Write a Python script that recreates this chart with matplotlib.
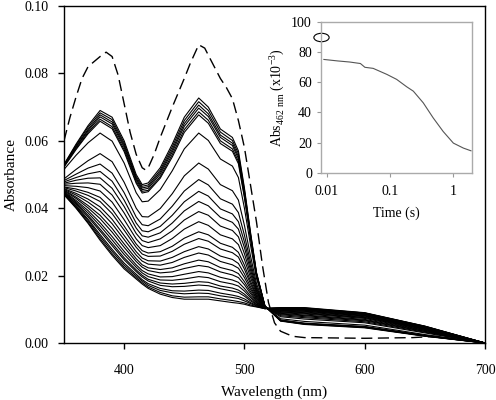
import matplotlib
matplotlib.use("Agg")
import matplotlib.pyplot as plt
import numpy as np
from matplotlib.markers import MarkerStyle
from matplotlib.transforms import Affine2D

plt.rcParams['font.family'] = ['Liberation Serif', 'DejaVu Serif']
plt.rcParams['mathtext.fontset'] = 'custom'
plt.rcParams['mathtext.rm'] = 'Liberation Serif'

# wavelengths (nm) the spectra were read at
wavelength = [350, 360, 370, 380, 390, 400, 410, 415, 420, 430, 440, 450, 462,
              470, 480, 490, 495, 500, 505, 510, 517, 530, 550, 600, 650, 700]

# initial spectrum (dashed), absorbance x 1e-3, on its own finer grid
dashed_wl = [350, 355, 360, 365, 370, 375, 380, 385, 390, 395, 400, 405, 410,
             415, 418, 420, 425, 430, 440, 450, 455, 462, 467, 472, 480, 485,
             490, 495, 500, 505, 510, 515, 520, 525, 530, 540, 550, 600, 640,
             660, 700]
dashed_abs = [60, 67, 73, 78.5, 82, 83.5, 85, 86.3, 85, 79.5, 71, 62.5, 56,
              52, 51.3, 52, 56, 61, 70, 78.5, 83, 88.5, 87.5, 84, 78.5, 75.8,
              72.5, 66, 58, 47, 36, 23, 12, 6, 3.5, 2, 1.6, 1.4, 1.6,
              2.0, 0]

# time-resolved spectra (solid), absorbance x 1e-3, first to last
spectra = [
    [53.0, 59.0, 64.5, 69.0, 67.0, 60.0, 50.0, 47.0, 47.5, 52.0, 59.0, 67.0, 72.7, 70.0, 63.5, 61.0, 57.0, 46.0, 33.0, 21.0, 11.0, 6.5, 5.5, 4.5, 2.0, 0],
    [52.9, 58.7, 64.0, 68.3, 66.3, 59.3, 49.4, 46.5, 46.9, 51.3, 58.2, 66.0, 71.6, 69.0, 62.6, 60.1, 56.2, 45.4, 32.6, 20.8, 11.0, 6.6, 5.6, 4.6, 2.1, 0],
    [52.7, 58.3, 63.4, 67.7, 65.6, 58.7, 48.9, 46.0, 46.4, 50.7, 57.4, 65.1, 70.6, 68.0, 61.7, 59.3, 55.4, 44.8, 32.2, 20.6, 11.0, 6.6, 5.7, 4.7, 2.1, 0],
    [52.6, 58.1, 63.0, 67.1, 65.0, 58.1, 48.5, 45.5, 45.9, 50.1, 56.7, 64.3, 69.7, 67.2, 61.0, 58.6, 54.7, 44.3, 31.9, 20.5, 11.0, 6.7, 5.7, 4.7, 2.1, 0],
    [52.4, 57.7, 62.5, 66.4, 64.2, 57.4, 47.9, 45.0, 45.3, 49.4, 55.9, 63.3, 68.6, 66.1, 60.0, 57.6, 53.9, 43.6, 31.5, 20.3, 10.9, 6.8, 5.8, 4.8, 2.2, 0],
    [52.2, 57.4, 62.1, 65.8, 63.6, 56.8, 47.4, 44.5, 44.9, 48.9, 55.2, 62.5, 67.7, 65.2, 59.2, 56.9, 53.2, 43.1, 31.2, 20.1, 10.9, 6.8, 5.9, 4.9, 2.3, 0],
    [51.5, 55.7, 59.4, 62.3, 59.9, 53.4, 44.6, 41.9, 42.1, 45.5, 51.1, 57.6, 62.3, 60.1, 54.6, 52.5, 49.1, 40.0, 29.2, 19.2, 10.9, 7.2, 6.4, 5.3, 2.5, 0],
    [48.7, 51.5, 54.1, 56.2, 53.8, 47.7, 40.0, 37.5, 37.4, 39.9, 44.3, 49.6, 53.4, 51.6, 47.0, 45.2, 42.4, 34.9, 25.9, 17.7, 10.7, 7.8, 7.1, 6.0, 3.0, 0],
    [48.2, 50.1, 51.9, 53.1, 50.4, 44.6, 37.4, 35.1, 34.8, 36.8, 40.6, 45.1, 48.5, 46.9, 42.8, 41.2, 38.7, 32.0, 24.1, 16.8, 10.7, 8.1, 7.5, 6.3, 3.2, 0],
    [47.8, 49.1, 50.2, 50.9, 48.0, 42.4, 35.6, 33.3, 33.0, 34.6, 37.9, 41.9, 45.0, 43.6, 39.8, 38.3, 36.0, 30.0, 22.8, 16.2, 10.6, 8.4, 7.8, 6.6, 3.4, 0],
    [47.4, 48.3, 48.9, 49.0, 45.9, 40.5, 34.1, 31.8, 31.4, 32.7, 35.6, 39.2, 42.0, 40.7, 37.3, 35.8, 33.8, 28.3, 21.7, 15.7, 10.6, 8.6, 8.1, 6.8, 3.5, 0],
    [47.1, 47.4, 47.5, 47.1, 43.9, 38.6, 32.5, 30.4, 29.8, 30.9, 33.3, 36.5, 39.0, 37.9, 34.7, 33.4, 31.5, 26.5, 20.6, 15.2, 10.5, 8.8, 8.3, 7.0, 3.7, 0],
    [46.7, 46.5, 46.1, 45.1, 41.8, 36.6, 30.9, 28.9, 28.3, 28.9, 31.0, 33.8, 36.0, 34.9, 32.1, 30.9, 29.2, 24.8, 19.5, 14.7, 10.5, 9.0, 8.6, 7.3, 3.8, 0],
    [46.3, 45.7, 44.7, 43.2, 39.7, 34.7, 29.4, 27.4, 26.7, 27.1, 28.7, 31.1, 33.0, 32.1, 29.6, 28.4, 26.9, 23.1, 18.4, 14.2, 10.5, 9.2, 8.8, 7.5, 4.0, 0],
    [46.1, 45.1, 43.8, 42.0, 38.4, 33.5, 28.4, 26.4, 25.7, 25.8, 27.2, 29.3, 31.0, 30.2, 27.9, 26.8, 25.5, 21.9, 17.6, 13.8, 10.4, 9.3, 9.0, 7.6, 4.1, 0],
    [45.8, 44.4, 42.7, 40.4, 36.7, 31.9, 27.1, 25.2, 24.4, 24.3, 25.4, 27.1, 28.6, 27.9, 25.8, 24.8, 23.6, 20.5, 16.7, 13.4, 10.4, 9.5, 9.2, 7.8, 4.2, 0],
    [45.6, 43.9, 41.8, 39.2, 35.4, 30.7, 26.1, 24.3, 23.4, 23.1, 23.9, 25.4, 26.7, 26.1, 24.2, 23.2, 22.2, 19.4, 16.0, 13.1, 10.4, 9.6, 9.4, 8.0, 4.3, 0],
    [45.4, 43.3, 40.8, 37.9, 34.0, 29.4, 25.0, 23.2, 22.3, 21.8, 22.3, 23.5, 24.6, 24.1, 22.4, 21.5, 20.6, 18.2, 15.3, 12.7, 10.4, 9.7, 9.5, 8.1, 4.4, 0],
    [45.2, 42.9, 40.1, 36.9, 32.9, 28.4, 24.2, 22.5, 21.5, 20.8, 21.1, 22.1, 23.0, 22.6, 21.1, 20.2, 19.4, 17.3, 14.7, 12.4, 10.3, 9.8, 9.7, 8.2, 4.5, 0],
    [45.0, 42.3, 39.3, 35.7, 31.6, 27.2, 23.2, 21.5, 20.5, 19.6, 19.7, 20.4, 21.2, 20.8, 19.5, 18.7, 18.0, 16.2, 14.0, 12.1, 10.3, 10.0, 9.8, 8.4, 4.6, 0],
    [44.8, 41.9, 38.6, 34.8, 30.6, 26.3, 22.5, 20.8, 19.7, 18.7, 18.6, 19.0, 19.7, 19.4, 18.2, 17.5, 16.9, 15.4, 13.5, 11.9, 10.3, 10.1, 9.9, 8.5, 4.7, 0],
    [44.6, 41.5, 37.9, 33.8, 29.6, 25.3, 21.7, 20.1, 18.9, 17.8, 17.5, 17.7, 18.2, 18.0, 16.9, 16.3, 15.7, 14.5, 12.9, 11.6, 10.3, 10.2, 10.1, 8.6, 4.7, 0],
    [44.5, 41.2, 37.4, 33.2, 28.9, 24.7, 21.2, 19.6, 18.4, 17.1, 16.7, 16.8, 17.2, 17.0, 16.1, 15.4, 15.0, 13.9, 12.5, 11.4, 10.3, 10.2, 10.1, 8.7, 4.8, 0],
    [44.3, 40.8, 36.7, 32.2, 27.8, 23.7, 20.4, 18.8, 17.6, 16.2, 15.5, 15.4, 15.7, 15.6, 14.8, 14.2, 13.8, 13.1, 12.0, 11.2, 10.2, 10.3, 10.3, 8.8, 4.9, 0],
    [44.2, 40.5, 36.3, 31.6, 27.2, 23.1, 19.9, 18.4, 17.1, 15.6, 14.9, 14.6, 14.8, 14.7, 14.0, 13.5, 13.2, 12.5, 11.7, 11.0, 10.2, 10.4, 10.3, 8.9, 4.9, 0],
    [44.1, 40.2, 35.8, 31.0, 26.5, 22.5, 19.4, 17.9, 16.6, 15.0, 14.0, 13.6, 13.7, 13.7, 13.1, 12.6, 12.3, 11.9, 11.3, 10.8, 10.2, 10.5, 10.4, 8.9, 5.0, 0],
    [44.0, 40.0, 35.5, 30.5, 26.0, 22.0, 19.0, 17.5, 16.2, 14.5, 13.5, 13.0, 13.0, 13.0, 12.5, 12.0, 11.8, 11.5, 11.0, 10.7, 10.2, 10.5, 10.5, 9.0, 5.0, 0],
]

# inset: kinetics at 462 nm
time_s = [0.009, 0.015, 0.023, 0.034, 0.040, 0.054, 0.089, 0.127, 0.183,
          0.233, 0.334, 0.48, 0.69, 1.0, 1.44, 1.9]
abs462 = [75, 74, 73.3, 72.3, 69.8, 69.1, 65.1, 61.8, 56.9,
          54, 46.3, 36.3, 27.3, 19.6, 16.3, 14.5]
t0_point = (0.0081, 90)

fig = plt.figure(figsize=(4.96, 4.0), dpi=100)
ax = fig.add_axes([64/496, 57/400, 421/496, 337/400])

wl = np.array(wavelength)
for s in spectra:
    ax.plot(wl, np.array(s) / 1000, color='black', lw=0.8)
ax.plot(dashed_wl, np.array(dashed_abs) / 1000, color='black', lw=1.0,
        dashes=(8, 4))

ax.set_xlim(350, 700)
ax.set_ylim(0, 0.10)
ax.set_xticks([400, 500, 600, 700])
ax.set_yticks([0, 0.02, 0.04, 0.06, 0.08, 0.10])
ax.set_yticklabels(['0.00', '0.02', '0.04', '0.06', '0.08', '0.10'])
ax.tick_params(axis='x', direction='out', length=4, width=1, pad=11, labelsize=10)
ax.tick_params(axis='y', direction='out', length=4, width=1, pad=7, labelsize=10)
ax.set_xlabel('Wavelength (nm)', fontsize=11, labelpad=6)
ax.set_ylabel('Absorbance', fontsize=11, labelpad=5)
for sp in ax.spines.values():
    sp.set_linewidth(1)

# inset
ins = fig.add_axes([321/496, (400-172.7)/400, 151/496, 151/400])
ins.plot(time_s, abs462, color='#555555', lw=0.8)
ell = MarkerStyle('o', fillstyle='none', transform=Affine2D().scale(1.0, 0.55))
ins.plot([t0_point[0]], [t0_point[1]], marker=ell, markersize=11,
         markeredgecolor='black', markeredgewidth=0.8, linestyle='none',
         clip_on=False)
ins.set_xscale('log')
ins.set_xlim(0.0081, 1.97)
ins.set_ylim(0, 100)
ins.set_xticks([0.01, 0.1, 1])
ins.set_xticklabels(['0.01', '0.1', '1'])
ins.minorticks_off()
ins.set_yticks([0, 20, 40, 60, 80, 100])
ins.tick_params(direction='out', length=3, width=0.8, color='#999999',
                labelsize=10)
ins.tick_params(axis='x', pad=6)
for sp in ins.spines.values():
    sp.set_color('#aaaaaa')
    sp.set_linewidth(1)
ins.set_xlabel('Time (s)', fontsize=10, labelpad=6)
ins.set_ylabel(r'Abs$_{462\ \mathrm{nm}}$ (x10$^{-3}$)', fontsize=10, labelpad=4)

fig.savefig('out.png', dpi=100)
